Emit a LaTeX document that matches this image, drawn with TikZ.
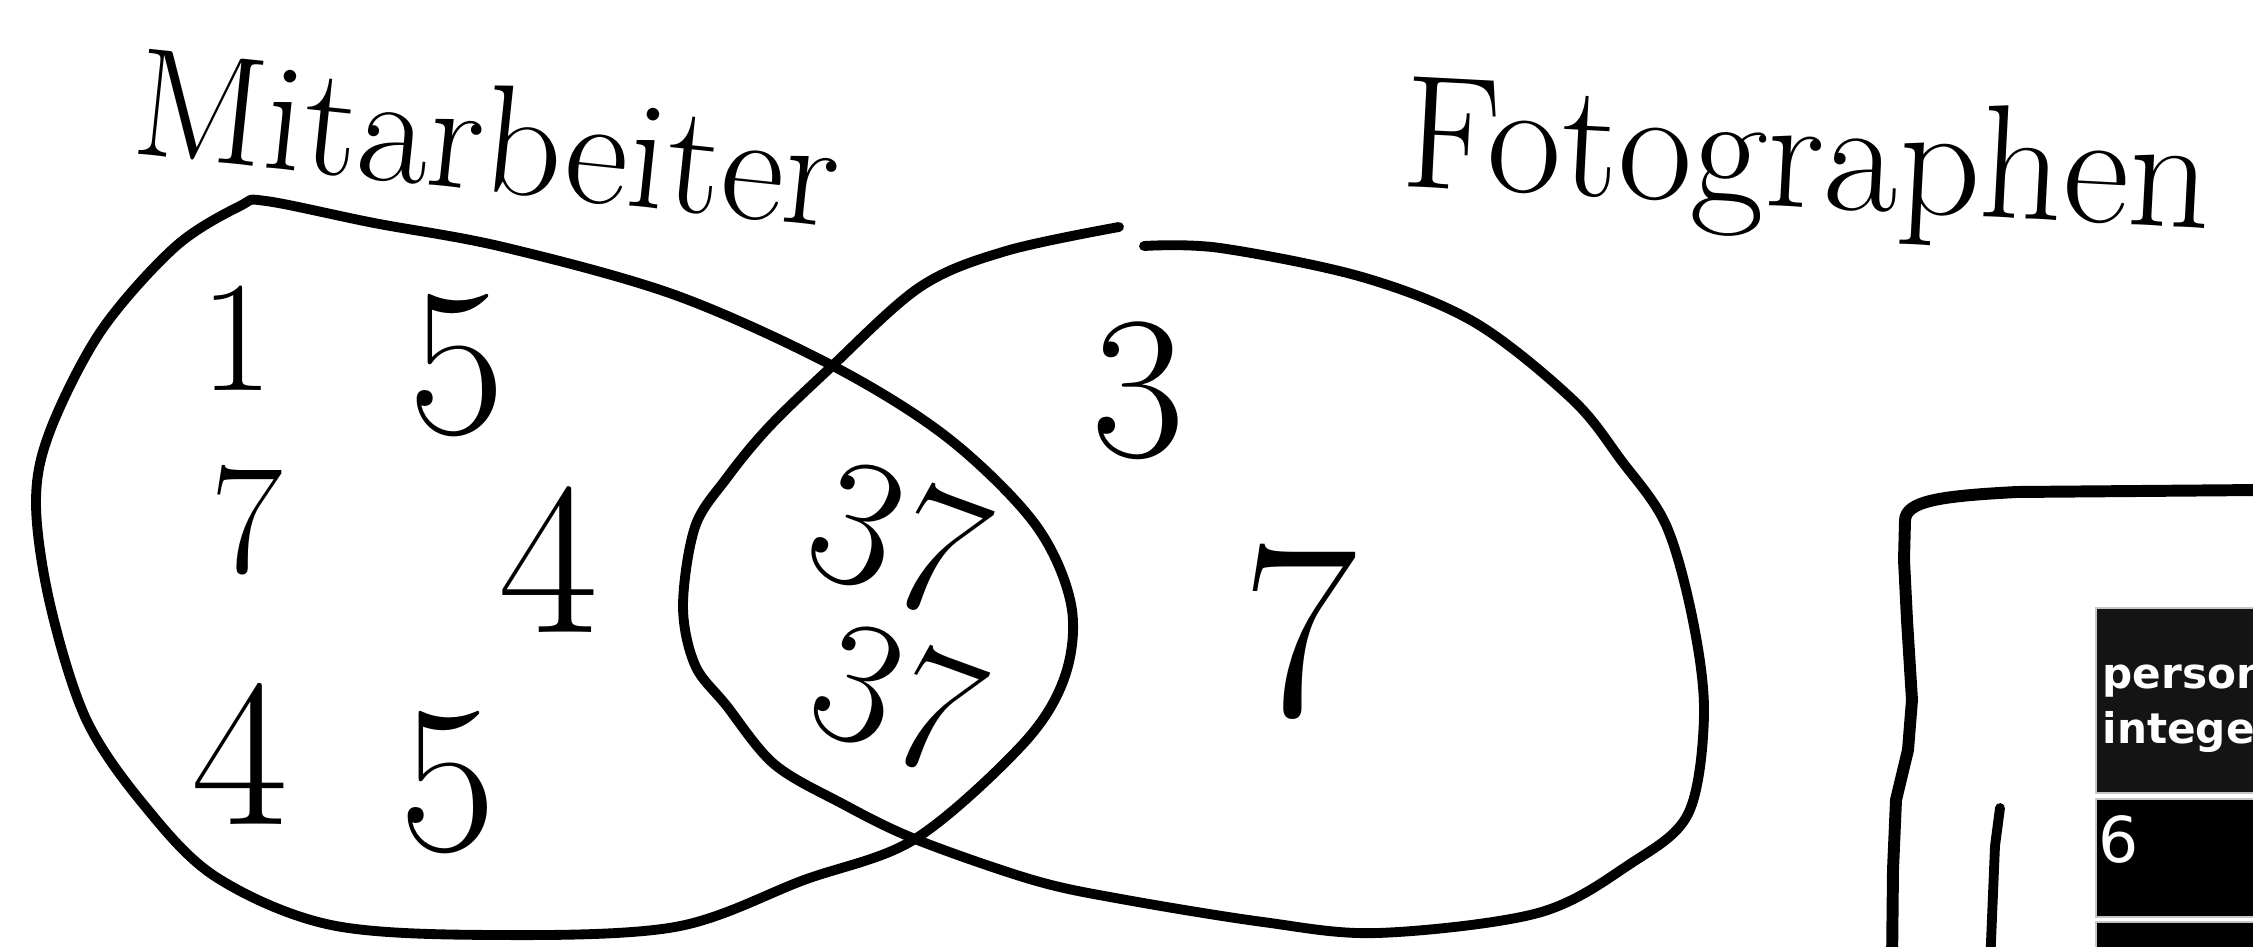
\documentclass[tikz,border=0pt]{standalone}
\usepackage{fontspec}
\newfontfamily\tablafont{DejaVu Sans}

\begin{document}
\begin{tikzpicture}[
  trazo/.style={line width=2.8pt, line cap=round, line join=round},
  num/.style={inner sep=0pt, font=\fontsize{#1}{#1}\selectfont},
  num/.default=56,
  titulo/.style={font=\fontsize{#1}{#1}\selectfont},
  celda/.style={draw=gray!45, line width=0.6pt}
]
\useasboundingbox (0,0) rectangle (22.53,9.46);
\clip (0,0) rectangle (22.53,9.46);

% Mitarbeiter
\draw [trazo] plot [smooth cycle, tension=0.55] coordinates {
  (2.66,7.45) (3.74,7.23) (5.03,6.99) (6.75,6.51) (8.33,5.80) (9.48,5.08)
  (10.35,4.22) (10.71,3.42) (10.65,2.70) (10.23,2.02) (9.15,1.07)
  (8.04,0.66) (6.75,0.19) (4.94,0.11) (3.31,0.21) (2.16,0.69) (1.44,1.41)
  (0.86,2.27) (0.50,3.42) (0.36,4.43) (0.50,5.15) (1.01,6.15) (1.75,6.99)
  (2.40,7.40)};

% Fotographen (abierto arriba)
\draw [trazo] plot [smooth, tension=0.55] coordinates {
  (11.44,7.00) (12.20,6.98) (13.62,6.69) (14.74,6.24) (15.72,5.47) (16.21,4.86)
  (16.66,4.21) (16.93,3.25) (17.04,2.30) (16.88,1.32) (16.30,0.82) (15.38,0.33)
  (13.78,0.13) (12.63,0.24) (11.21,0.47) (10.33,0.66) (9.15,1.07) (8.41,1.43)
  (7.74,1.82) (7.26,2.41) (6.95,2.81) (6.83,3.40) (6.95,4.19) (7.26,4.67)
  (7.68,5.18) (8.29,5.77) (9.20,6.59) (10.06,6.95) (11.19,7.19)};

% Etiquetas
\node [titulo=44, rotate=-6] (mit) at (4.88,8.08) {Mitarbeiter};
\node [titulo=46, rotate=-3] (foto) at (18.07,7.78) {Fotographen};

% Numeros
\node [num=45] (ma1) at (2.37,6.08) {1};
\node [num=60] (ma2) at (4.57,5.80) {5};
\node [num=45] (ma3) at (2.47,4.26) {7};
\node [num=62] (ma4) at (5.49,3.86) {4};
\node [num=60] (ma5) at (2.40,1.92) {4};
\node [num=60] (ma6) at (4.48,1.63) {5};
\node [num=52, rotate=-20] (mf1) at (8.98,4.08) {37};
\node [num=50, rotate=-20] (mf2) at (8.97,2.48) {37};
\node [num=58] (fo1) at (11.38,5.55) {3};
\node [num=72] (fo2) at (13.00,3.14) {7};

% Marco
\draw [line width=3.4pt, line cap=round, line join=round]
  (22.60,4.56) -- (20.17,4.54) .. controls (19.40,4.50) and (19.05,4.45) .. (19.05,4.25)
  -- (19.04,3.86) -- (19.07,3.26) -- (19.12,2.46) -- (19.08,1.96) -- (18.96,1.46)
  -- (18.93,0.76) -- (18.92,-0.20);
\draw [trazo] (20.00,1.38) -- (19.95,1.00) -- (19.90,-0.20);

% Tabla
\draw [celda, fill={rgb,255:red,20;green,20;blue,20}] (20.96,3.38) rectangle (22.80,1.53);
\draw [celda, fill=black] (20.96,1.47) rectangle (22.80,0.29);
\draw [celda, fill=black] (20.96,0.24) rectangle (22.80,-0.40);
\node [anchor=base west, inner sep=0pt, text=white, font=\tablafont\bfseries\fontsize{12}{14}\selectfont] (col) at (21.02,2.58) {person};
\node [anchor=base west, inner sep=0pt, text=white, font=\tablafont\bfseries\fontsize{12}{14}\selectfont] (tipo) at (21.02,2.03) {integer};
\node [anchor=base west, inner sep=0pt, text=white, font=\tablafont\fontsize{18}{20}\selectfont] (val) at (20.98,0.84) {6};
\end{tikzpicture}
\end{document}
